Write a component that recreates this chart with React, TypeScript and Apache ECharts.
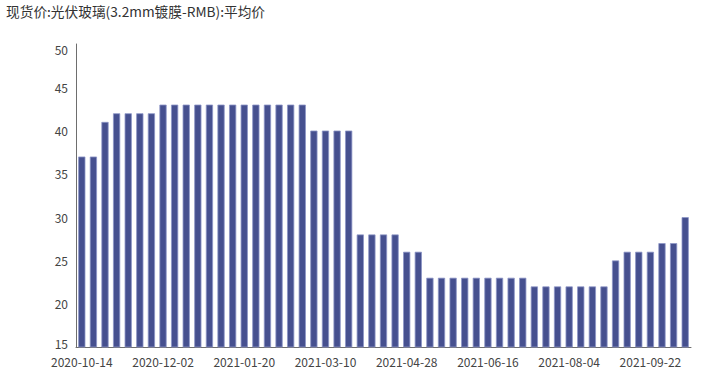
import React, { useEffect, useRef } from "react";
import * as echarts from "echarts";

const title = "现货价:光伏玻璃(3.2mm镀膜-RMB):平均价";

const dates = [
  "2020-10-14", "2020-10-21", "2020-10-28", "2020-11-04", "2020-11-11", "2020-11-18", "2020-11-25",
  "2020-12-02", "2020-12-09", "2020-12-16", "2020-12-23", "2020-12-30", "2021-01-06", "2021-01-13",
  "2021-01-20", "2021-01-27", "2021-02-03", "2021-02-10", "2021-02-17", "2021-02-24", "2021-03-03",
  "2021-03-10", "2021-03-17", "2021-03-24", "2021-03-31", "2021-04-07", "2021-04-14", "2021-04-21",
  "2021-04-28", "2021-05-05", "2021-05-12", "2021-05-19", "2021-05-26", "2021-06-02", "2021-06-09",
  "2021-06-16", "2021-06-23", "2021-06-30", "2021-07-07", "2021-07-14", "2021-07-21", "2021-07-28",
  "2021-08-04", "2021-08-11", "2021-08-18", "2021-08-25", "2021-09-01", "2021-09-08", "2021-09-15",
  "2021-09-22", "2021-09-29", "2021-10-06", "2021-10-13",
];

const prices = [
  37, 37, 41, 42, 42, 42, 42,
  43, 43, 43, 43, 43, 43, 43,
  43, 43, 43, 43, 43, 43, 40,
  40, 40, 40, 28, 28, 28, 28,
  26, 26, 23, 23, 23, 23, 23,
  23, 23, 23, 23, 22, 22, 22,
  22, 22, 22, 22, 25, 26, 26,
  26, 27, 27, 30,
];

const yMin = 15;
const yMax = 50;
const yInterval = 5;

const FONT = "'Noto Sans CJK SC', 'Noto Sans', sans-serif";

export default function App() {
  const ref = useRef<HTMLDivElement>(null);
  useEffect(() => {
    if (!ref.current) return;
    const chart = echarts.init(ref.current, undefined, { renderer: "svg" });
    chart.setOption({
      animation: false,
      backgroundColor: "#ffffff",
      title: {
        text: title,
        left: 6,
        top: 4,
        padding: 0,
        textStyle: { fontFamily: FONT, fontSize: 13.7, fontWeight: "normal", color: "#333333" },
      },
      grid: { left: 76, right: 30, top: 44, bottom: 40, containLabel: false },
      xAxis: {
        type: "category",
        data: dates,
        axisLine: { show: true, lineStyle: { color: "#6e6e6e", width: 1 } },
        axisTick: { show: false },
        axisLabel: {
          interval: 6,
          margin: 8,
          color: "#444444",
          fontSize: 12,
          fontFamily: FONT,
        },
        splitLine: { show: false },
      },
      yAxis: {
        type: "value",
        min: yMin,
        max: yMax,
        interval: yInterval,
        axisLine: { show: true, lineStyle: { color: "#6e6e6e", width: 1 } },
        axisTick: { show: false },
        splitLine: { show: false },
        axisLabel: {
          margin: 8,
          color: "#444444",
          fontSize: 12,
          fontFamily: FONT,
          formatter: (v: number) =>
            v === yMin ? `{lo|${v}}` : v === yMax ? `{hi|${v}}` : `${v}`,
          rich: {
            lo: { fontSize: 12, fontFamily: FONT, color: "#444444", padding: [0, 0, 8, 0] },
            hi: { fontSize: 12, fontFamily: FONT, color: "#444444", padding: [11, 0, 0, 0] },
          },
        },
      },
      series: [
        {
          type: "bar",
          data: prices,
          barWidth: "62%",
          itemStyle: {
            color: "#46508f",
            borderColor: "#8d95c6",
            borderWidth: 0.8,
          },
        },
      ],
    });
    return () => chart.dispose();
  }, []);
  return (
    <div
      ref={ref}
      style={{ position: "fixed", left: 0, top: 0, width: 721, height: 387 }}
    />
  );
}
